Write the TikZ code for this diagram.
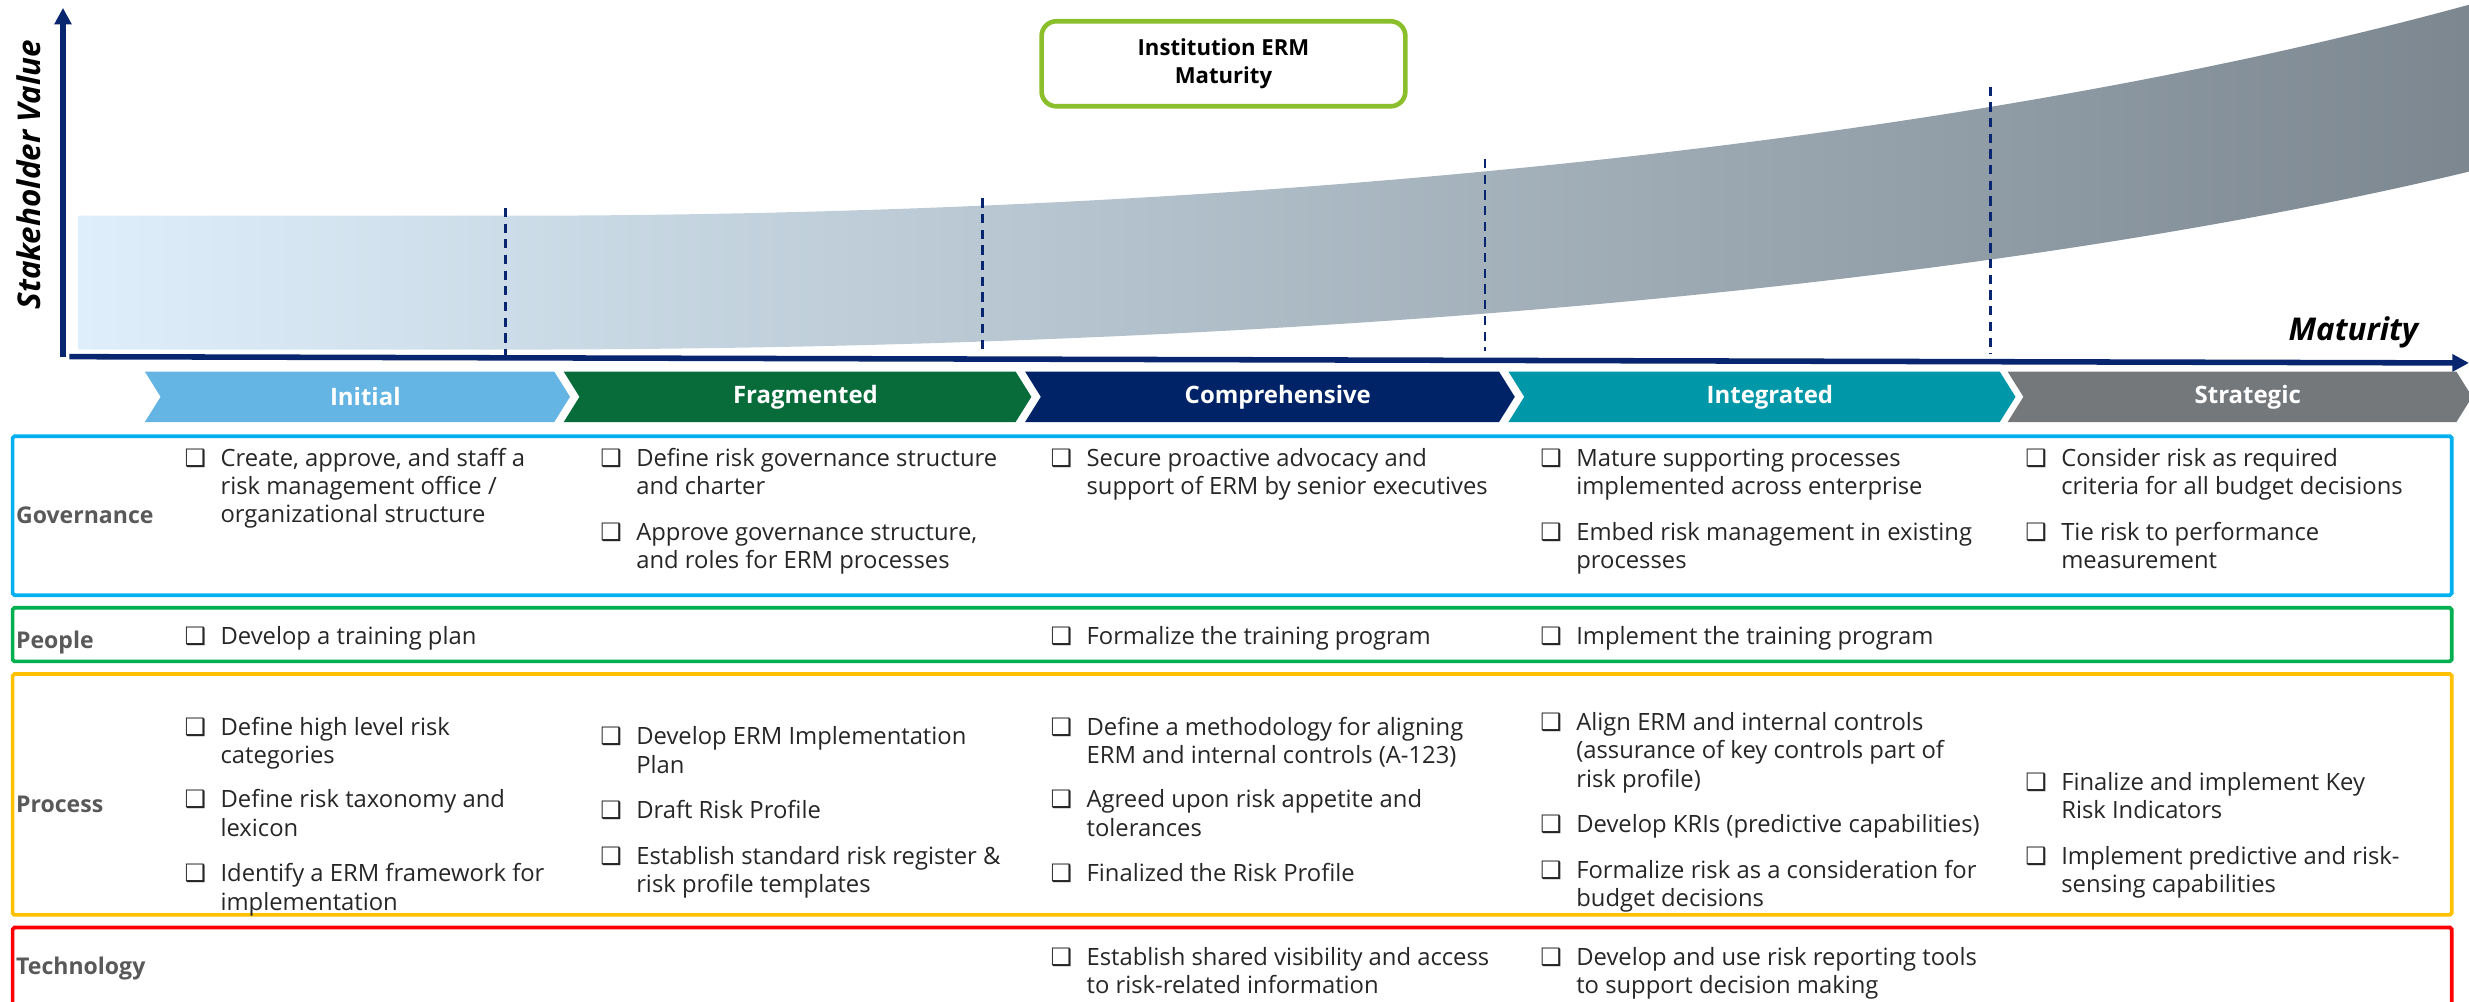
\documentclass[tikz,border=0pt]{standalone}
\usepackage{fontspec}
\setmainfont{Open Sans}
\newfontfamily\symfont{DejaVu Sans}
\usetikzlibrary{arrows.meta, positioning}

\definecolor{axisblue}{RGB}{8,38,112}
\definecolor{bandleft}{RGB}{222,239,251}
\definecolor{bandright}{RGB}{124,135,144}
\definecolor{ermgreen}{RGB}{138,190,42}
\definecolor{initialblue}{RGB}{100,180,228}
\definecolor{fraggreen}{RGB}{7,108,58}
\definecolor{compnavy}{RGB}{0,35,104}
\definecolor{integteal}{RGB}{0,152,168}
\definecolor{stratgray}{RGB}{117,120,123}
\definecolor{govblue}{RGB}{0,176,240}
\definecolor{peoplegreen}{RGB}{0,176,80}
\definecolor{processamber}{RGB}{255,192,0}
\definecolor{techred}{RGB}{255,0,0}
\definecolor{labelgray}{RGB}{89,89,89}
\definecolor{itemblack}{RGB}{38,38,38}

\newcommand{\itemfont}{\fontsize{12.9}{15.3}\selectfont}
\newcommand{\chk}[1]{\makebox[19.5pt][l]{\symfont\fontsize{13}{13}\selectfont ❑}\begin{tabular}[t]{@{}l@{}}#1\end{tabular}}

% one chevron of the maturity scale: name, left, tip, colour, label
\newcommand{\phase}[5]{%
    \fill[#4] (#2,236) -- (#3-10,236) -- (#3,252) -- (#3-10,268) -- (#2,268) -- (#2+10,252) -- cycle;
    \node[phase label] (#1) at ({(#2+#3)/2+5},252) {#5};
}

\begin{document}
\begin{tikzpicture}[x=0.03cm, y=-0.03cm,
    axis/.style={draw=axisblue, line width=3pt, -{Triangle[length=9pt, width=9pt]}},
    phase line/.style={draw=axisblue, line width=1.3pt, dash pattern=on 5pt off 3.5pt},
    axis label/.style={font=\fontsize{17}{20}\selectfont\bfseries\itshape, text=black, inner sep=0pt},
    title box/.style={draw=ermgreen, line width=2.5pt, rounded corners=8pt, fill=white, align=center,
        minimum width=6.93cm, minimum height=1.62cm, font=\fontsize{12}{15}\selectfont\bfseries},
    phase label/.style={text=white, font=\fontsize{13}{15}\selectfont\bfseries, inner sep=0pt},
    row box/.style={line width=2pt, rounded corners=1pt},
    row label/.style={anchor=west, text=labelgray, font=\fontsize{12.5}{15}\selectfont\bfseries, inner sep=0pt},
    item/.style={anchor=base west, inner sep=0pt, text=itemblack, font=\itemfont}
]
    \useasboundingbox (0,0) rectangle (1568,636);
    \clip (0,0) rectangle (1568,636);

    % Value band
    \shade[left color=bandleft, right color=bandright]
        (50,137) -- (321,137) .. controls (800,137) and (1250,90) .. (1568,3)
        -- (1568,109) .. controls (1250,185) and (800,222) .. (321,222) -- (50,222) -- cycle;

    % Axes
    \coordinate (yfoot) at (40,227);
    \coordinate (ytop) at (40,5);
    \coordinate (xfoot) at (44,226.5);
    \coordinate (xend) at (1568,230.5);
    \draw[axis] (yfoot) -- (ytop);
    \draw[axis] (xfoot) -- (xend);
    \node[axis label, rotate=90] (yname) at (18,111) {Stakeholder Value};
    \node[axis label, anchor=base east] (xname) at (1536,216) {Maturity};

    % Stage boundaries
    \foreach \x/\top/\bot in {321/132/229, 624/126/223, 943/101/223, 1264/55/225}{
        \coordinate (dtop) at (\x,\top);
        \coordinate (dbot) at (\x,\bot);
        \draw[phase line] (dtop) -- (dbot);
    }

    \node[title box] (erm) at (777,40.5) {Institution ERM\\Maturity};

    % Chevrons
    \phase{initial}{92}{362}{initialblue}{Initial}
    \phase{fragmented}{358}{655}{fraggreen}{Fragmented}
    \phase{comprehensive}{651}{962}{compnavy}{Comprehensive}
    \phase{integrated}{958}{1280}{integteal}{Integrated}
    \phase{strategic}{1275}{1570}{stratgray}{Strategic}

    % Rows
    \draw[row box, draw=govblue] (8,277) rectangle (1557,378);
    \draw[row box, draw=peoplegreen] (8,386) rectangle (1557,420);
    \draw[row box, draw=processamber] (8,428) rectangle (1557,581);
    \draw[row box, draw=techred] (8,589) rectangle (1557,660);

    \node[row label] (governance) at (10,327) {Governance};
    \node[row label] (people) at (10,408) {People};
    \node[row label] (process) at (10,511) {Process};
    \node[row label] (technology) at (10,615) {Technology};

    % Governance
    \node[item] (g1) at (117,296) {\chk{Create, approve, and staff a\\risk management office /\\organizational structure}};
    \node[item] (g2a) at (381,296) {\chk{Define risk governance structure\\and charter}};
    \node[item] (g2b) at (381,343) {\chk{Approve governance structure,\\and roles for ERM processes}};
    \node[item] (g3) at (667,296) {\chk{Secure proactive advocacy and\\support of ERM by senior executives}};
    \node[item] (g4a) at (978,296) {\chk{Mature supporting processes\\implemented across enterprise}};
    \node[item] (g4b) at (978,343) {\chk{Embed risk management in existing\\processes}};
    \node[item] (g5a) at (1286,296) {\chk{Consider risk as required\\criteria for all budget decisions}};
    \node[item] (g5b) at (1286,343) {\chk{Tie risk to performance\\measurement}};

    % People
    \node[item] (p1) at (117,409) {\chk{Develop a training plan}};
    \node[item] (p3) at (667,409) {\chk{Formalize the training program}};
    \node[item] (p4) at (978,409) {\chk{Implement the training program}};

    % Process
    \node[item] (r1a) at (117,467) {\chk{Define high level risk\\categories}};
    \node[item] (r1b) at (117,513) {\chk{Define risk taxonomy and\\lexicon}};
    \node[item] (r1c) at (117,560) {\chk{Identify a ERM framework for\\implementation}};
    \node[item] (r2a) at (381,473) {\chk{Develop ERM Implementation\\Plan}};
    \node[item] (r2b) at (381,520) {\chk{Draft Risk Profile}};
    \node[item] (r2c) at (381,549) {\chk{Establish standard risk register \&\\risk profile templates}};
    \node[item] (r3a) at (667,467) {\chk{Define a methodology for aligning\\ERM and internal controls (A-123)}};
    \node[item] (r3b) at (667,513) {\chk{Agreed upon risk appetite and\\tolerances}};
    \node[item] (r3c) at (667,560) {\chk{Finalized the Risk Profile}};
    \node[item] (r4a) at (978,464) {\chk{Align ERM and internal controls\\(assurance of key controls part of\\risk profile)}};
    \node[item] (r4b) at (978,529) {\chk{Develop KRIs (predictive capabilities)}};
    \node[item] (r4c) at (978,558) {\chk{Formalize risk as a consideration for\\budget decisions}};
    \node[item] (r5a) at (1286,502) {\chk{Finalize and implement Key\\Risk Indicators}};
    \node[item] (r5b) at (1286,549) {\chk{Implement predictive and risk-\\sensing capabilities}};

    % Technology
    \node[item] (t3) at (667,613) {\chk{Establish shared visibility and access\\to risk-related information}};
    \node[item] (t4) at (978,613) {\chk{Develop and use risk reporting tools\\to support decision making}};
\end{tikzpicture}
\end{document}
